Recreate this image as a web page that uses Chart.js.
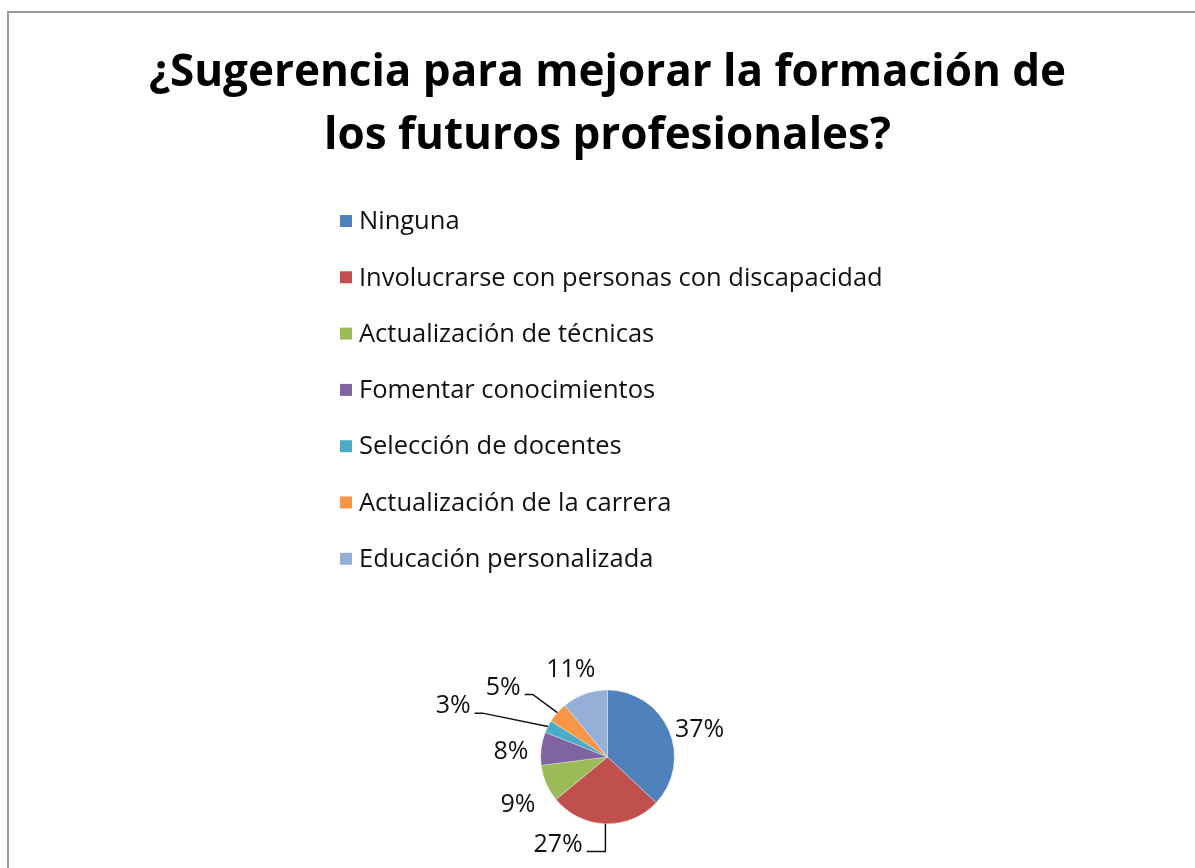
<!DOCTYPE html>
<html>
<head>
<meta charset="utf-8">
<title>Sugerencias</title>
<script src="https://cdn.jsdelivr.net/npm/chart.js@4.4.1/dist/chart.umd.min.js"></script>
<style>
  html, body { margin: 0; padding: 0; background: #fff; overflow: hidden; }
  #frame {
    position: absolute; left: 7px; top: 11px; width: 1300px; height: 1000px;
    border-top: 2px solid #9a9a9a; border-left: 2px solid #9a9a9a;
  }
  #myChart { position: absolute; left: 0; top: 0; }
</style>
</head>
<body>
<div id="frame"></div>
<canvas id="myChart" width="1195" height="868"></canvas>
<script>
const categories = [
  "Ninguna",
  "Involucrarse con personas con discapacidad",
  "Actualización de técnicas",
  "Fomentar conocimientos",
  "Selección de docentes",
  "Actualización de la carrera",
  "Educación personalizada"
]
const percentages = [37, 27, 9, 8, 3, 5, 11]
const sliceColors = ["#4F81BD", "#C0504D", "#9BBB59", "#8064A2", "#4BACC6", "#F79646", "#95B0D8"]

// labels that Excel moved off the slice and tied back with a leader line
// (offset of the label centre from the pie centre, in radii)
const callouts = {
  1: [-0.74, 1.31],
  4: [-2.31, -0.76],
  5: [-1.56, -1.04]
}

const FONT = "'Open Sans', 'DejaVu Sans', sans-serif"

// vertical list legend drawn in the free space between title and pie
const listLegend = {
  id: "listLegend",
  afterDraw(chart) {
    const ctx = chart.ctx
    const colors = chart.data.datasets[0].backgroundColor
    ctx.save()
    ctx.font = "25.5px " + FONT
    ctx.textBaseline = "middle"
    ctx.textAlign = "left"
    chart.data.labels.forEach((lab, i) => {
      const y = 221 + i * 56.3
      ctx.fillStyle = colors[i]
      ctx.fillRect(340, y - 6, 12, 12)
      ctx.fillStyle = "#111"
      ctx.fillText(lab, 359, y + 1)
    })
    ctx.restore()
  }
}

const sliceLabels = {
  id: "sliceLabels",
  afterDatasetsDraw(chart) {
    const ctx = chart.ctx
    const ds = chart.data.datasets[0]
    const total = ds.data.reduce((a, b) => a + b, 0)
    const meta = chart.getDatasetMeta(0)
    ctx.save()
    ctx.font = "25px " + FONT
    ctx.textBaseline = "middle"
    ctx.textAlign = "center"
    ctx.fillStyle = "#111"
    ctx.strokeStyle = "#111"
    ctx.lineWidth = 1.5
    meta.data.forEach((arc, i) => {
      const p = arc.getProps(["x", "y", "startAngle", "endAngle", "outerRadius"], true)
      const mid = (p.startAngle + p.endAngle) / 2
      const c = Math.cos(mid), s = Math.sin(mid)
      const txt = Math.round(ds.data[i] / total * 100) + "%"
      const w = ctx.measureText(txt).width
      let lx, ly
      if (callouts[i]) {
        lx = p.x + callouts[i][0] * p.outerRadius
        ly = p.y + callouts[i][1] * p.outerRadius
        const ex = lx + w / 2 + 4
        const ey = ly + 7
        const ax = p.x + c * p.outerRadius
        const ay = p.y + s * p.outerRadius
        let elbow = ex + 8
        if (ax - elbow < 16) elbow = ax
        ctx.beginPath()
        ctx.moveTo(ex, ey)
        ctx.lineTo(elbow, ey)
        ctx.lineTo(ax, ay)
        ctx.stroke()
      } else {
        const r = p.outerRadius + 10
        lx = p.x + c * r + c * (w / 2 + 1) - 2
        ly = p.y + s * r + s * 24 + 8 + (c > 0.5 ? 5 : 0)
      }
      ctx.fillText(txt, lx, ly)
    })
    ctx.restore()
  }
}

var chartField = document.querySelector("#myChart").getContext("2d")

var myChart = new Chart(chartField, {
  type: "pie",
  data: {
    labels: categories,
    datasets: [{
      data: percentages,
      backgroundColor: sliceColors,
      borderColor: "rgba(255,255,255,0.6)",
      borderWidth: 0.5,
      hoverOffset: 0
    }]
  },
  options: {
    responsive: false,
    animation: false,
    events: [],
    layout: { padding: { left: 20, right: 0, top: 0, bottom: 44 } },
    plugins: {
      legend: { display: false },
      tooltip: { enabled: false },
      title: {
        display: true,
        text: ["¿Sugerencia para mejorar la formación de", "los futuros profesionales?"],
        color: "#000",
        font: { family: FONT, size: 44, weight: "bold", lineHeight: 1.43 },
        padding: { top: 42.5, bottom: 521.5 }
      }
    }
  },
  plugins: [listLegend, sliceLabels]
})
</script>
</body>
</html>
